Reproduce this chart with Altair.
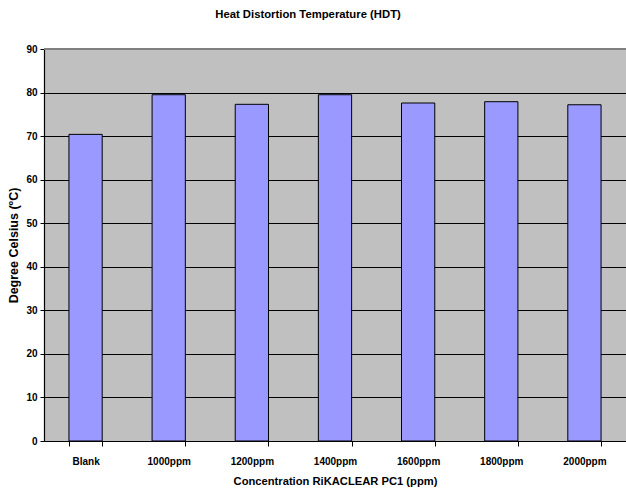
import altair as alt
import pandas as pd

# Heat distortion temperature per nucleating-agent concentration
categories = ["Blank", "1000ppm", "1200ppm", "1400ppm", "1600ppm", "1800ppm", "2000ppm"]
hdt_values = [70.4, 79.5, 77.3, 79.5, 77.6, 77.9, 77.2]

df = pd.DataFrame({"conc": categories, "hdt": hdt_values})

FONT = "Liberation Sans"

x_enc = alt.X(
    "conc:N",
    sort=categories,
    scale=alt.Scale(paddingInner=0.6, paddingOuter=0.3),
    axis=alt.Axis(
        title="Concentration RiKACLEAR PC1 (ppm)",
        labelAngle=0,
        labelFont=FONT, labelFontSize=10, labelFontWeight="bold", labelColor="black",
        labelPadding=10,
        titleFont=FONT, titleFontSize=11.2, titleFontWeight="bold", titleColor="black",
        titlePadding=9,
        tickBand="extent", tickColor="black", tickSize=5,
        domainColor="black", domainWidth=1.2,
    ),
)

y_enc = alt.Y(
    "hdt:Q",
    scale=alt.Scale(domain=[0, 90], nice=False),
    axis=alt.Axis(
        title="Degree Celsius (ºC)",
        values=list(range(0, 91, 10)),
        labelFont=FONT, labelFontSize=10, labelFontWeight="bold", labelColor="black",
        labelPadding=3,
        titleFont=FONT, titleFontSize=12.5, titleFontWeight="bold", titleColor="black",
        titlePadding=5,
        tickColor="black", tickSize=4,
        domainColor="black", domainWidth=1.2,
        grid=True, gridColor="black", gridWidth=1,
    ),
)

bars = alt.Chart(df).mark_bar(
    color="#9999FF", stroke="black", strokeWidth=1
).encode(x=x_enc, y=y_enc)

# darker frame line along the top of the plot area
top_line = alt.Chart(df).mark_rule(color="#808080", strokeWidth=2).encode(
    y=alt.datum(90), x=alt.value(0), x2=alt.value(582)
)

chart = alt.layer(bars, top_line).properties(
    width=582,
    height=392,
    autosize=alt.AutoSizeParams(type="none"),
    padding={"left": 44, "top": 49, "right": 0, "bottom": 53},
    background="white",
    title=alt.TitleParams(
        "Heat Distortion Temperature (HDT)",
        font=FONT, fontSize=11.3, fontWeight="bold", color="black",
        anchor="middle", dx=-27, offset=24,
    ),
).configure_view(
    fill="#C0C0C0", stroke=None
)

chart.save("out.html", embed_options={"renderer": "svg", "actions": False})
